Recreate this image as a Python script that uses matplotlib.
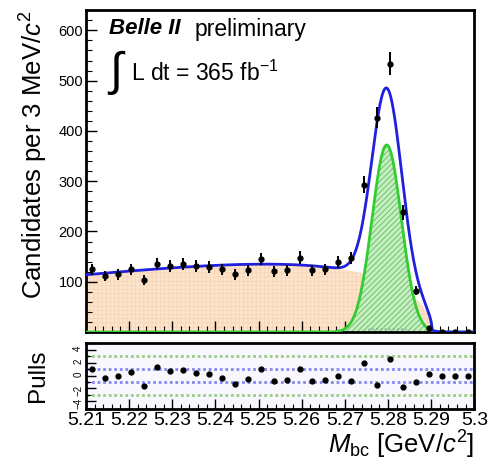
import numpy as np
import matplotlib
matplotlib.use('Agg')
from matplotlib import pyplot as plt
from matplotlib.ticker import MultipleLocator

plt.rcParams['font.family'] = ['Liberation Sans', 'DejaVu Sans']
plt.rcParams['mathtext.fontset'] = 'custom'
plt.rcParams['mathtext.rm'] = 'Liberation Sans'
plt.rcParams['mathtext.it'] = 'Liberation Sans:italic'
plt.rcParams['mathtext.bf'] = 'Liberation Sans:bold'
plt.rcParams['hatch.linewidth'] = 0.6

# binning: 30 bins of 3 MeV between 5.21 and 5.30 GeV
bin_lo = 5.21
bin_hi = 5.30
n_bins = 30

# observed candidates per bin
counts = [125, 111, 115, 125, 103, 136, 131, 135, 131, 129,
          125, 115, 123, 145, 121, 123, 148, 123, 125, 140,
          147, 293, 426, 534, 238, 82, 7, 0, 0, 0]

# normalised residuals per bin
pulls = [1.0, -0.4, -0.1, 0.5, -1.6, 1.3, 0.7, 0.8, 0.4, 0.2,
         -0.4, -1.3, -0.6, 1.0, -0.8, -0.7, 0.95, -0.9, -0.7, -0.05,
         -0.8, 1.9, -1.5, 2.5, -1.7, -1.0, 0.3, 0.0, 0.0, 0.0]

# fit model (heights in candidates per bin)
sig_mean = 5.2797
sig_sigma = 0.0034
sig_peak = 372
pk_peak = 12
pk_sigma = 0.0040
argus_m0 = 5.2902
argus_c = -33.8
bkg_ref_mass = 5.2115
bkg_ref_value = 115


def argus(m):
    t = 1 - (m / argus_m0) ** 2
    t = np.clip(t, 0, None)
    return m * np.sqrt(t) * np.exp(argus_c * t)


def gauss(m, peak, mu, s):
    return peak * np.exp(-0.5 * ((m - mu) / s) ** 2)


edges = np.linspace(bin_lo, bin_hi, n_bins + 1)
centers = 0.5 * (edges[1:] + edges[:-1])
counts = np.array(counts, dtype=float)
errors = np.sqrt(counts)

m = np.linspace(bin_lo, bin_hi, 1000)
bkg = bkg_ref_value * argus(m) / argus(bkg_ref_mass)
sig = gauss(m, sig_peak, sig_mean, sig_sigma)
peaking = gauss(m, pk_peak, sig_mean, pk_sigma)
total = bkg + sig + peaking

fig = plt.figure(figsize=(4.91, 4.65), dpi=100)
ax = fig.add_axes([0.175, 0.286, 0.791, 0.692])
axp = fig.add_axes([0.175, 0.12, 0.791, 0.142])

# background, signal and peaking components
ax.fill_between(m, 0, bkg, facecolor='#fde4cb', edgecolor='#f6d6b8',
                hatch='++++', linewidth=0, zorder=1)
ax.fill_between(m, 0, sig, facecolor='#c6eec0', edgecolor='#5fbf5f',
                hatch='//////', linewidth=0, zorder=2)
ax.plot(m, sig, color='#33cc33', lw=2.0, zorder=3)
ax.fill_between(m, 0, peaking, facecolor='none', edgecolor='#9090b0',
                hatch='....', linewidth=0, zorder=3)
ax.plot(m, total, color='#2020dd', lw=2.0, zorder=4)
ax.errorbar(centers, counts, yerr=errors, fmt='o', color='black', ms=3.5,
            elinewidth=1.4, capsize=0, zorder=5)

ax.set_xlim(bin_lo, bin_hi)
ax.set_ylim(0, 640)
ax.set_yticks([100, 200, 300, 400, 500, 600])
ax.yaxis.set_minor_locator(MultipleLocator(20))
ax.xaxis.set_major_locator(MultipleLocator(0.01))
ax.xaxis.set_minor_locator(MultipleLocator(0.002))
ax.tick_params(axis='both', which='both', direction='in')
ax.tick_params(axis='both', which='major', length=8, width=1.0)
ax.tick_params(axis='both', which='minor', length=4, width=0.8)
ax.tick_params(axis='x', labelbottom=False)
ax.tick_params(axis='y', labelsize=10.5, pad=2)
for s in ax.spines.values():
    s.set_linewidth(2.0)
ax.set_ylabel('Candidates per 3 MeV/$c^2$', fontsize=18.5, loc='top')
ax.yaxis.set_label_coords(-0.093, 1.0)

ax.text(0.06, 0.975, 'Belle II', transform=ax.transAxes, fontsize=16,
        fontweight='bold', style='italic', va='top', ha='left')
ax.text(0.28, 0.975, 'preliminary', transform=ax.transAxes, fontsize=16.5,
        va='top', ha='left')
ax.text(0.055, 0.805, r'$\int$', transform=ax.transAxes, fontsize=34,
        va='center', ha='left')
ax.text(0.115, 0.805, 'L dt = 365 fb$^{-1}$', transform=ax.transAxes,
        fontsize=16.5, va='center', ha='left')

# pull panel
axp.set_facecolor('#f7f7fd')
for lvl, col in [(3, '#99cc88'), (-3, '#99cc88'), (1, '#8888ee'), (-1, '#8888ee')]:
    axp.axhline(lvl, color=col, lw=2.0, ls=(0, (1, 1)), zorder=1)
axp.plot(centers, pulls, 'o', color='black', ms=3.5, zorder=3)
axp.set_xlim(bin_lo, bin_hi)
axp.set_ylim(-5.2, 5.0)
axp.set_yticks([-4, -2, 0, 2, 4])
axp.yaxis.set_minor_locator(MultipleLocator(1))
axp.xaxis.set_major_locator(MultipleLocator(0.01))
axp.xaxis.set_minor_locator(MultipleLocator(0.002))
axp.tick_params(axis='both', which='both', direction='in')
axp.tick_params(axis='both', which='major', length=7, width=1.0)
axp.tick_params(axis='both', which='minor', length=3.5, width=0.8)
axp.tick_params(axis='y', labelsize=7, labelrotation=90, pad=2)
axp.tick_params(axis='x', labelsize=14, pad=2)
axp.set_xticks(np.round(np.arange(5.21, 5.3001, 0.01), 2))
axp.set_xticklabels(['5.21', '5.22', '5.23', '5.24', '5.25', '5.26',
                     '5.27', '5.28', '5.29', '5.3'])
for s in axp.spines.values():
    s.set_linewidth(2.0)
axp.set_ylabel('Pulls', fontsize=17.5)
axp.yaxis.set_label_coords(-0.095, 0.5)
axp.set_xlabel(r'$M_{\rm bc}$ [GeV/$c^2$]', fontsize=18.5, loc='right')
axp.xaxis.set_label_coords(1.0, -0.29)

fig.savefig('out.png', dpi=100)
